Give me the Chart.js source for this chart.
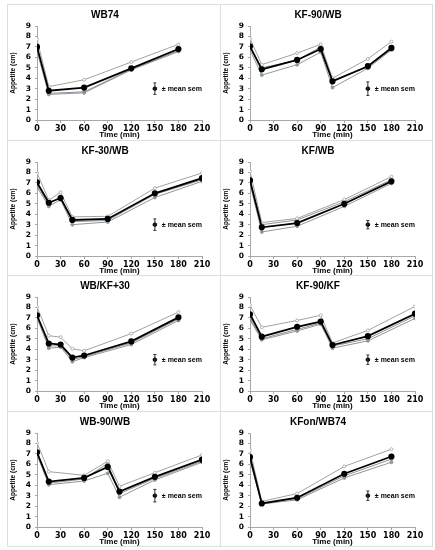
<!DOCTYPE html>
<html>
<head>
<meta charset="utf-8">
<script src="https://cdn.jsdelivr.net/npm/chart.js@4/dist/chart.umd.min.js"></script>
<style>
	body { margin: 0; background: #fff; }
	#grid {
		position: absolute; left: 8px; top: 5px; width: 425px; height: 542px;
		display: grid; grid-template-columns: 1fr 1fr; grid-template-rows: repeat(4, 1fr);
	}
	.panel { position: relative; border: 1px solid #dedede; margin: -1px 0 0 -1px; }
	.panel canvas { position: absolute; left: 0; top: 0; }
</style>
</head>
<body>
<div id="grid"></div>
<script>
// panel titles, left to right, top to bottom
const titles = ['WB74', 'KF-90/WB', 'KF-30/WB', 'KF/WB', 'WB/KF+30', 'KF-90/KF', 'WB-90/WB', 'KFon/WB74'];

// sampling times (min) for each panel
const times = [
	[0, 15, 60, 120, 180],
	[0, 15, 60, 90, 105, 150, 180],
	[0, 15, 30, 45, 90, 150, 210],
	[0, 15, 60, 120, 180],
	[0, 15, 30, 45, 60, 120, 180],
	[0, 15, 60, 90, 105, 150, 210],
	[0, 15, 60, 90, 105, 150, 210],
	[0, 15, 60, 120, 180],
];

// mean appetite (black line)
const meanVals = [
	[7.0, 2.8, 3.1, 4.95, 6.8],
	[7.05, 4.85, 5.75, 6.8, 3.7, 5.15, 6.9],
	[7.05, 5.1, 5.55, 3.45, 3.55, 6.0, 7.45],
	[7.25, 2.75, 3.15, 5.0, 7.15],
	[7.25, 4.55, 4.45, 3.2, 3.4, 4.75, 7.05],
	[7.35, 5.2, 6.15, 6.65, 4.4, 5.25, 7.4],
	[7.15, 4.35, 4.7, 5.75, 3.4, 4.8, 6.45],
	[6.7, 2.25, 2.8, 5.1, 6.75],
];

// grey lines
const highVals = [
	[7.7, 3.2, 3.85, 5.55, 7.25],
	[7.8, 5.3, 6.4, 7.25, 4.0, 5.85, 7.5],
	[7.95, 5.35, 6.1, 3.75, 3.8, 6.5, 7.95],
	[8.1, 3.2, 3.6, 5.4, 7.6],
	[8.05, 5.3, 5.15, 4.05, 3.85, 5.5, 7.55],
	[8.2, 6.1, 6.75, 7.25, 4.6, 5.8, 8.1],
	[8.05, 5.3, 4.95, 6.3, 3.9, 5.2, 6.9],
	[7.35, 2.45, 3.2, 5.8, 7.45],
];
const midVals = [
	[6.8, 2.55, 2.7, 4.85, 6.65],
	[6.9, 5.0, 5.7, 7.0, 3.8, 5.1, 6.8],
	[6.8, 4.95, 5.7, 3.3, 3.4, 5.9, 7.3],
	[7.0, 3.0, 3.45, 5.2, 7.3],
	[7.1, 4.3, 4.35, 3.0, 3.3, 4.6, 6.9],
	[7.0, 5.0, 5.9, 6.5, 4.3, 5.0, 7.2],
	[7.0, 4.2, 4.6, 6.1, 3.2, 4.65, 6.3],
	[6.5, 2.3, 2.7, 4.9, 6.5],
];
const lowVals = [
	[6.6, 2.45, 2.6, 4.8, 6.55],
	[6.7, 4.3, 5.3, 6.5, 3.1, 4.95, 6.7],
	[6.6, 4.75, 5.4, 3.0, 3.25, 5.6, 7.15],
	[6.9, 2.3, 2.85, 4.75, 6.95],
	[7.0, 4.1, 4.2, 2.8, 3.2, 4.45, 6.75],
	[6.8, 4.9, 5.75, 6.4, 4.1, 4.8, 6.95],
	[6.9, 4.05, 4.4, 5.15, 2.85, 4.5, 6.2],
	[6.35, 2.2, 2.6, 4.7, 6.2],
];

// "± mean sem" key: position and half-length of the bar
const semX = [150, 150, 150, 150, 150, 150, 150, 150];
const semY = [3, 3, 3, 3, 3, 3, 3, 3];
const semErr = [0.55, 0.65, 0.55, 0.4, 0.5, 0.45, 0.6, 0.45];

const xTicks = [0, 30, 60, 90, 120, 150, 180, 210];
const yTicks = [0, 1, 2, 3, 4, 5, 6, 7, 8, 9];

const greyCols = ['#a2a2a2', '#8c9898', '#928e9c'];
const axisCol = '#a8a8a8';

function pts(xs, ys) {
	return xs.map((x, i) => ({ x: x, y: ys[i] }));
}

// draws the error bar and the "± mean sem" text of the key
const semPlugin = {
	id: 'sem',
	afterDatasetsDraw(chart, args, opts) {
		const ctx = chart.ctx;
		const x = chart.scales.x, y = chart.scales.y;
		const px = x.getPixelForValue(opts.x);
		const top = y.getPixelForValue(opts.y + opts.err);
		const bot = y.getPixelForValue(opts.y - opts.err);
		const py = y.getPixelForValue(opts.y);
		ctx.save();
		ctx.strokeStyle = '#333';
		ctx.lineWidth = 1;
		ctx.beginPath();
		ctx.moveTo(px, top); ctx.lineTo(px, bot);
		ctx.moveTo(px - 1.5, top); ctx.lineTo(px + 1.5, top);
		ctx.moveTo(px - 1.5, bot); ctx.lineTo(px + 1.5, bot);
		ctx.stroke();
		ctx.fillStyle = '#000';
		ctx.font = 'bold 7px "Liberation Sans", Arial, sans-serif';
		ctx.textBaseline = 'middle';
		ctx.fillText('\u00b1 mean sem', px + 7, py);
		ctx.restore();
	},
};

const grid = document.getElementById('grid');

titles.forEach((title, p) => {
	const div = document.createElement('div');
	div.className = 'panel';
	grid.appendChild(div);
	const cv = document.createElement('canvas');
	div.appendChild(cv);
	const w = div.clientWidth, h = div.clientHeight;
	cv.width = w; cv.height = h;
	cv.style.width = w + 'px'; cv.style.height = h + 'px';

	const greyLine = (vals, col, open) => ({
		data: pts(times[p], vals),
		borderColor: col,
		borderWidth: 1,
		pointRadius: 1.5,
		pointBorderWidth: 0.8,
		pointBorderColor: col,
		pointBackgroundColor: open ? '#fff' : col,
		order: 2,
	});

	new Chart(cv, {
		type: 'line',
		data: {
			datasets: [
				{
					data: pts(times[p], meanVals[p]),
					borderColor: '#000',
					borderWidth: 1.8,
					pointRadius: 2.2,
					pointBackgroundColor: '#000',
					pointBorderColor: '#000',
					order: 0,
				},
				greyLine(highVals[p], greyCols[0], true),
				greyLine(midVals[p], greyCols[2], false),
				greyLine(lowVals[p], greyCols[1], false),
				{
					data: [{ x: semX[p], y: semY[p] }],
					showLine: false,
					pointRadius: 1.8,
					pointBackgroundColor: '#000',
					pointBorderColor: '#000',
					order: 0,
				},
			],
		},
		options: {
			responsive: false,
			animation: false,
			devicePixelRatio: 1,
			layout: { padding: { left: 0, right: 18, top: 0, bottom: 0 } },
			plugins: {
				legend: { display: false },
				tooltip: { enabled: false },
				title: {
					display: true,
					text: title,
					color: '#000',
					font: { family: '"Liberation Sans", Arial, sans-serif', size: 10, weight: 'bold' },
					padding: { top: 4, bottom: 5 },
				},
				sem: { x: semX[p], y: semY[p], err: semErr[p] },
			},
			scales: {
				x: {
					type: 'linear',
					min: 0,
					max: 210,
					afterBuildTicks: (s) => { s.ticks = xTicks.map(v => ({ value: v })); },
					afterFit: (s) => { s.height = 20; },
					border: { color: axisCol, width: 1 },
					grid: { drawOnChartArea: false, tickLength: 3, color: axisCol },
					ticks: {
						color: '#000',
						padding: 1,
						maxRotation: 0,
						autoSkip: false,
						font: { family: '"DejaVu Sans", sans-serif', size: 8, weight: 'bold' },
					},
					title: {
						display: true,
						text: 'Time (min)',
						color: '#000',
						padding: 0,
						font: { family: '"Liberation Sans", Arial, sans-serif', size: 8, weight: 'bold' },
					},
				},
				y: {
					min: 0,
					max: 9,
					afterBuildTicks: (s) => { s.ticks = yTicks.map(v => ({ value: v })); },
					afterFit: (s) => { s.width = 29; },
					border: { color: axisCol, width: 1 },
					grid: { drawOnChartArea: false, tickLength: 2, color: axisCol },
					ticks: {
						color: '#000',
						padding: 4,
						autoSkip: false,
						font: { family: '"DejaVu Sans", sans-serif', size: 7.5, weight: 'bold' },
					},
					title: {
						display: true,
						text: 'Appetite (cm)',
						color: '#000',
						padding: 1,
						font: { family: '"Liberation Sans", Arial, sans-serif', size: 6.5, weight: 'bold' },
					},
				},
			},
		},
		plugins: [semPlugin],
	});
});
</script>
</body>
</html>
